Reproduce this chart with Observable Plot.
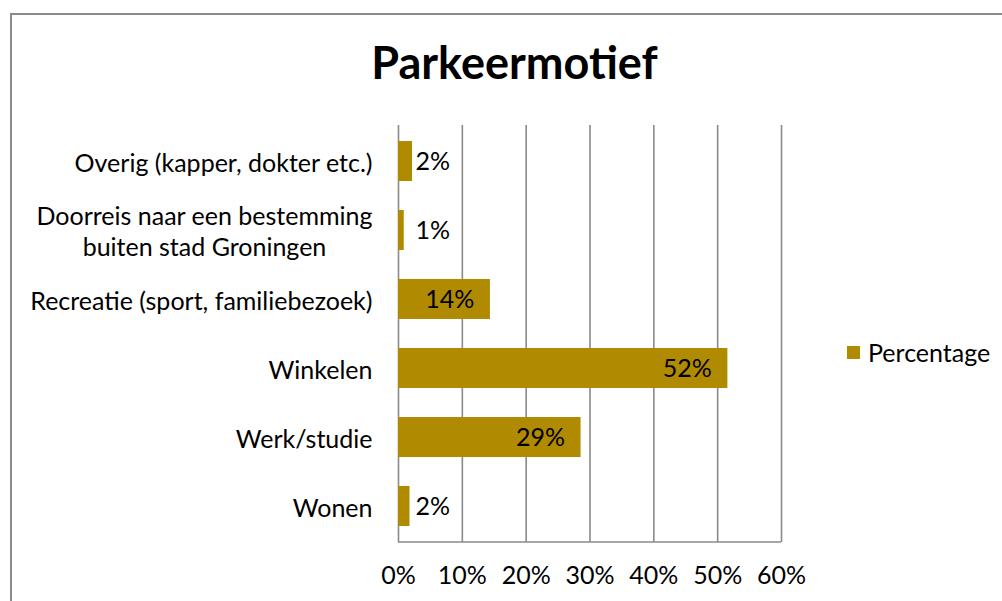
<!DOCTYPE html>
<html>
<head>
<meta charset="utf-8">
<script src="https://cdn.jsdelivr.net/npm/d3@7"></script>
<script src="https://cdn.jsdelivr.net/npm/@observablehq/plot@0.6"></script>
<style>
  html, body { margin: 0; padding: 0; background: #fff; }
  body { width: 1002px; height: 601px; overflow: hidden; position: relative; font-family: Lato, "Open Sans", sans-serif; }
  #frame { position: absolute; left: 10px; top: 13px; width: 1100px; height: 700px; border: 2px solid #8a8a8a; box-sizing: border-box; }
  #title { position: absolute; left: 26px; width: 977px; top: 40px; text-align: center; font-weight: bold; font-size: 45px; line-height: 1; color: #000; }
  #chart { position: absolute; left: 0; top: 0; }
  #legend { position: absolute; left: 847px; top: 337px; display: flex; align-items: center; font-size: 25px; color: #000; line-height: 30px; }
  #legend .sw { width: 13px; height: 13px; margin-right: 8px; }
</style>
</head>
<body>
<div id="frame"></div>
<div id="title">Parkeermotief</div>
<div id="chart"></div>
<div id="legend"><span class="sw"></span><span class="lbl"></span></div>
<script>
// ---- data ----
const categories = [
  "Overig (kapper, dokter etc.)",
  "Doorreis naar een bestemming\nbuiten stad Groningen",
  "Recreatie (sport, familiebezoek)",
  "Winkelen",
  "Werk/studie",
  "Wonen"
];
const values = [2.2, 0.9, 14.4, 51.6, 28.6, 1.8];
const valueLabels = ["2%", "1%", "14%", "52%", "29%", "2%"];
const xTicks = [0, 10, 20, 30, 40, 50, 60];
const seriesName = "Percentage";
const barColor = "#b08a00";

const data = categories.map((c, i) => ({category: c, value: values[i], label: valueLabels[i]}));

const FONT = 25;
const gridColor = "#8a8a8a";

const bottomLine = (index, scales, vals, dims) => {
  const svgNS = "http://www.w3.org/2000/svg";
  const l = document.createElementNS(svgNS, "line");
  const y = dims.height - dims.marginBottom;
  l.setAttribute("x1", dims.marginLeft);
  l.setAttribute("x2", dims.width - dims.marginRight);
  l.setAttribute("y1", y);
  l.setAttribute("y2", y);
  l.setAttribute("stroke", gridColor);
  l.setAttribute("stroke-width", 1.6);
  return l;
};

const chart = Plot.plot({
  width: 1002,
  height: 601,
  marginTop: 125,
  marginBottom: 59,
  marginLeft: 398,
  marginRight: 221,
  style: {fontFamily: "Lato, 'Open Sans', sans-serif", fontSize: FONT + "px", color: "#000", background: "transparent", overflow: "visible"},
  x: {domain: [0, 60]},
  y: {domain: categories, paddingInner: 0.42, paddingOuter: 0.21},
  marks: [
    Plot.gridX(xTicks, {stroke: gridColor, strokeOpacity: 1, strokeWidth: 1.6}),
    bottomLine,
    Plot.barX(data, {x: "value", y: "category", fill: barColor}),
    Plot.text(data, {filter: d => d.value >= 5, x: "value", y: "category", text: "label", textAnchor: "end", dx: -16, fontSize: FONT, fill: "#000"}),
    Plot.text(data, {filter: d => d.value < 5, y: "category", frameAnchor: "left", text: "label", textAnchor: "start", dx: 17, fontSize: FONT, fill: "#000"}),
    Plot.axisX(xTicks, {tickSize: 0, tickPadding: 24, tickFormat: d => d + "%", fontSize: FONT, fill: "#000", label: null}),
    Plot.axisY({tickSize: 0, tickPadding: 26, fontSize: FONT, fill: "#000", lineHeight: 1.25, label: null})
  ]
});
document.getElementById("chart").appendChild(chart);

// center multi-line category labels (as in the reference)
chart.querySelectorAll("text").forEach(t => {
  const spans = t.querySelectorAll("tspan");
  if (spans.length > 1) {
    let w = 0;
    spans.forEach(s => { w = Math.max(w, s.getComputedTextLength()); });
    t.setAttribute("text-anchor", "middle");
    spans.forEach(s => s.setAttribute("x", -w / 2));
  }
});

document.querySelector("#legend .sw").style.background = barColor;
document.querySelector("#legend .lbl").textContent = seriesName;
</script>
</body>
</html>
